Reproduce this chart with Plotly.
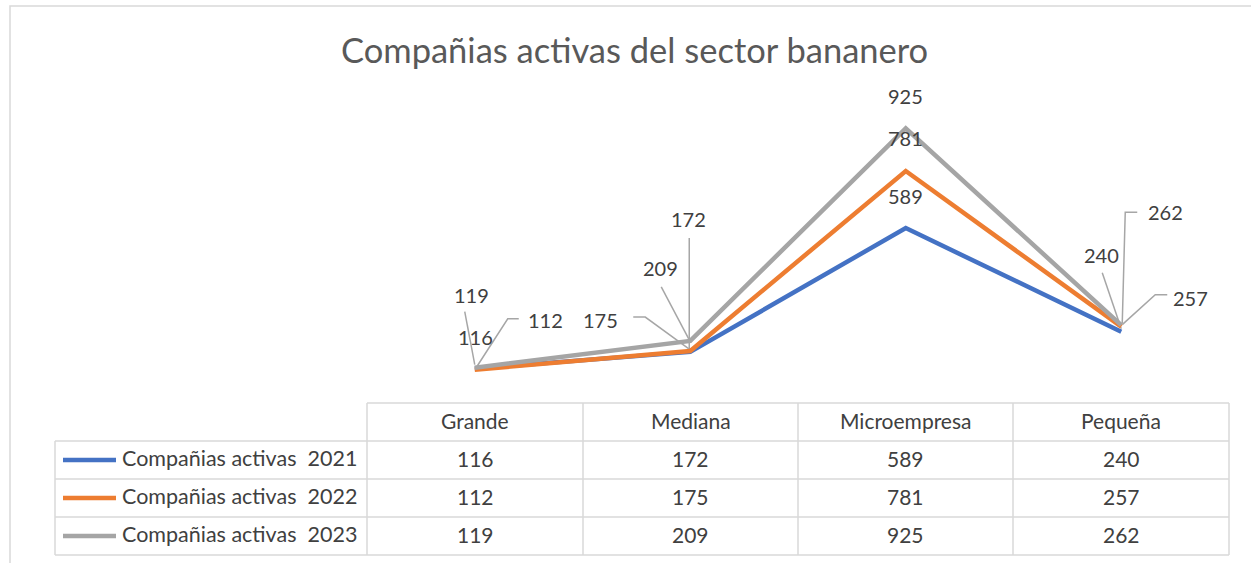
import plotly.graph_objects as go

categories = ["Grande", "Mediana", "Microempresa", "Pequeña"]
series_names = ["Compañias activas  2021", "Compañias activas  2022", "Compañias activas  2023"]
v2021 = [116, 172, 589, 240]
v2022 = [112, 175, 781, 257]
v2023 = [119, 209, 925, 262]
series_values = [v2021, v2022, v2023]
colors = ["#4472C4", "#ED7D31", "#A5A5A5"]

W, H = 1251, 563
def px(x):
    return x / W
def py(y):
    return 1 - y / H

TXT = "#404040"
FONT = "Lato, 'Open Sans', sans-serif"
GRID = "#D9D9D9"

fig = go.Figure()
for name, vals, col in zip(series_names, series_values, colors):
    fig.add_trace(go.Scatter(x=categories, y=vals, mode="lines", name=name,
                             line=dict(color=col, width=4.5), showlegend=False,
                             hoverinfo="x+y+name"))

# label placement per (series, category): (text dx, text dy, leader path in px relative to point or None)
# dy positive = up
label_pos = {
    (0, 0): (1, 32, None),
    (1, 0): (71, 50, "M 2 3 L 33 51 L 44 51"),
    (2, 0): (-3, 73, "M 0 3 L -10 56"),
    (0, 1): (-2, 133, "M -1 2 L -1 114"),
    (1, 1): (-90, 31, "M -1 2 L -45 34 L -57 34"),
    (2, 1): (-30, 73, "M -1 1 L -29 54"),
    (0, 2): (0, 32, None),
    (1, 2): (0, 33, None),
    (2, 2): (0, 32, None),
    (0, 3): (-20, 77, "M 0 3 L -19 59"),
    (1, 3): (69, 29, "M 1 2 L 34 32 L 46 32"),
    (2, 3): (44, 113, "M 1 2 L 4 113 L 16 113"),
}

for (si, ci), (dx, dy, path) in label_pos.items():
    val = series_values[si][ci]
    cat = categories[ci]
    fig.add_annotation(x=cat, y=val, xref="x", yref="y", text=str(val), showarrow=False,
                       xanchor="center", yanchor="middle",
                       xshift=dx, yshift=dy, font=dict(family=FONT, size=20, color=TXT))
    if path:
        fig.add_shape(type="path", xref="x", yref="y", xsizemode="pixel", ysizemode="pixel",
                      xanchor=cat, yanchor=val, path=path,
                      line=dict(color="#A6A6A6", width=1.5), layer="below")

def txt(x, y, text, size, color=TXT, xanchor="center"):
    fig.add_annotation(x=px(x), y=py(y), xref="paper", yref="paper", text=text,
                       showarrow=False, xanchor=xanchor, yanchor="middle",
                       font=dict(family=FONT, size=size, color=color))

# title
txt(634, 49, "Compañias activas del sector bananero", 34.5, color="#595959")

# chart border
fig.add_shape(type="rect", xref="paper", yref="paper", x0=px(10), x1=px(1262), y0=py(6), y1=py(575),
              line=dict(color=GRID, width=1.5))

# data table grid
col_x = [367, 583, 798, 1013, 1229]
row_y = [403, 441, 479, 517, 555]
left_x = 55
line_style = dict(color=GRID, width=1.5)
fig.add_shape(type="line", xref="paper", yref="paper", x0=px(col_x[0]), x1=px(col_x[-1]),
              y0=py(row_y[0]), y1=py(row_y[0]), line=line_style)
for yy in row_y[1:]:
    fig.add_shape(type="line", xref="paper", yref="paper", x0=px(left_x), x1=px(col_x[-1]),
                  y0=py(yy), y1=py(yy), line=line_style)
fig.add_shape(type="line", xref="paper", yref="paper", x0=px(left_x), x1=px(left_x),
              y0=py(row_y[1]), y1=py(row_y[-1]), line=line_style)
for xx in col_x:
    fig.add_shape(type="line", xref="paper", yref="paper", x0=px(xx), x1=px(xx),
                  y0=py(row_y[0]), y1=py(row_y[-1]), line=line_style)

for i, cat in enumerate(categories):
    cx = (col_x[i] + col_x[i + 1]) / 2
    txt(cx, (row_y[0] + row_y[1]) / 2 - 2, cat, 21)

for r, (name, vals, col) in enumerate(zip(series_names, series_values, colors)):
    cy = (row_y[r + 1] + row_y[r + 2]) / 2
    fig.add_shape(type="line", xref="paper", yref="paper", x0=px(63), x1=px(116),
                  y0=py(cy), y1=py(cy), line=dict(color=col, width=4.5))
    txt(120, cy - 2, name.replace("  ", " &nbsp;"), 21.5, xanchor="left")
    for i, v in enumerate(vals):
        cx = (col_x[i] + col_x[i + 1]) / 2
        txt(cx, cy - 2, str(v), 21)

fig.update_layout(
    width=W, height=H,
    margin=dict(l=0, r=0, t=0, b=0),
    paper_bgcolor="white", plot_bgcolor="white",
    xaxis=dict(domain=[px(367), px(1229)], range=[-0.5, 3.5], visible=False,
               type="category", categoryorder="array", categoryarray=categories),
    yaxis=dict(domain=[py(403), py(106)], range=[0, 1000], visible=False),
    showlegend=False,
)

fig.write_html("out.html", config={"displayModeBar": False},
               post_script="document.body.style.margin='0';document.body.style.overflow='hidden';")
